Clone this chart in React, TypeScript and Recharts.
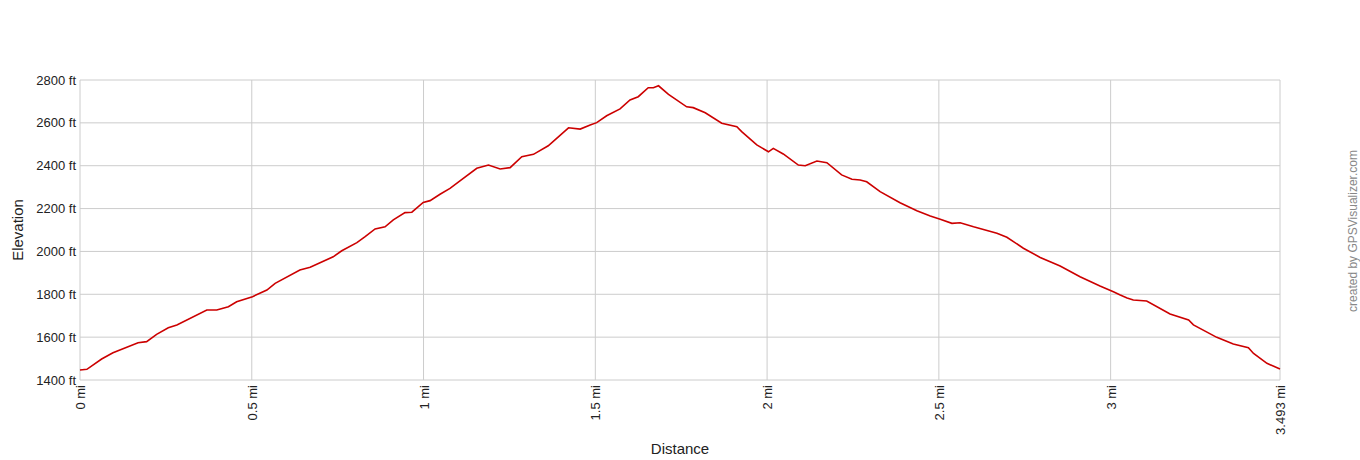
import { LineChart, Line, XAxis, YAxis, CartesianGrid, Label } from "recharts"

const distanceMi = [
  0, 0.02, 0.063, 0.096, 0.169, 0.194, 0.223, 0.257, 0.282, 0.369, 0.398, 0.432, 0.456, 0.502,
  0.544, 0.568, 0.64, 0.67, 0.737, 0.762, 0.806, 0.83, 0.859, 0.888, 0.912, 0.946, 0.966, 0.999,
  1.019, 1.048, 1.077, 1.106, 1.155, 1.189, 1.223, 1.252, 1.286, 1.32, 1.363, 1.422, 1.456, 1.485,
  1.504, 1.533, 1.572, 1.601, 1.625, 1.654, 1.669, 1.684, 1.713, 1.766, 1.785, 1.82, 1.868, 1.912,
  1.926, 1.97, 2.004, 2.018, 2.047, 2.091, 2.111, 2.145, 2.174, 2.217, 2.247, 2.271, 2.29, 2.329,
  2.387, 2.436, 2.475, 2.504, 2.538, 2.562, 2.601, 2.669, 2.698, 2.746, 2.795, 2.853, 2.911, 2.969,
  3.008, 3.028, 3.048, 3.066, 3.105, 3.173, 3.227, 3.241, 3.309, 3.357, 3.401, 3.416, 3.455, 3.493,
]

const elevationFt = [
  1447, 1450, 1498, 1527, 1574, 1579, 1613, 1644, 1657, 1727, 1727, 1742, 1765, 1789,
  1820, 1851, 1913, 1926, 1975, 2003, 2041, 2069, 2105, 2115, 2147, 2181, 2183, 2229,
  2237, 2267, 2294, 2329, 2388, 2403, 2385, 2391, 2442, 2453, 2493, 2577, 2571, 2590,
  2601, 2633, 2665, 2707, 2722, 2764, 2764, 2773, 2733, 2675, 2671, 2647, 2598, 2582,
  2559, 2497, 2465, 2481, 2455, 2403, 2400, 2422, 2414, 2357, 2337, 2333, 2325, 2279,
  2227, 2190, 2165, 2150, 2131, 2134, 2115, 2085, 2066, 2015, 1972, 1932, 1882, 1839,
  1812, 1797, 1783, 1773, 1769, 1708, 1680, 1657, 1599, 1568, 1551, 1524, 1478, 1451,
]

const xTicks = [0, 0.5, 1, 1.5, 2, 2.5, 3, 3.493]
const yTicks = [1400, 1600, 1800, 2000, 2200, 2400, 2600, 2800]

const data = distanceMi.map((d, i) => ({ dist: d, ele: elevationFt[i] }))

const FONT = "'Liberation Sans', Arial, sans-serif"

const DistTick = ({ x, y, payload }: any) => (
  <g transform={`translate(${x},${y})`}>
    <text transform="rotate(-90)" x={-5} y={5} textAnchor="end" fontSize={13} fill="#222" fontFamily={FONT}>
      {`${payload.value} mi`}
    </text>
  </g>
)

export default function App() {
  return (
    <div style={{ position: "absolute", left: 0, top: 0, width: 1360, height: 460, background: "#fff", fontFamily: FONT }}>
      <LineChart width={1360} height={460} data={data} margin={{ top: 80, right: 80, bottom: 0, left: 0 }}>
        <CartesianGrid stroke="#cccccc" strokeWidth={1} />
        <XAxis
          dataKey="dist"
          type="number"
          domain={[0, 3.493]}
          ticks={xTicks}
          height={80}
          axisLine={false}
          tickLine={false}
          tickSize={0}
          tickMargin={0}
          tick={<DistTick />}
          interval={0}
        >
          <Label
            content={({ viewBox }: any) => (
              <text x={viewBox.x + viewBox.width / 2} y={viewBox.y + 74} textAnchor="middle" fontSize={15} fill="#222" fontFamily={FONT}>
                Distance
              </text>
            )}
          />
        </XAxis>
        <YAxis
          type="number"
          domain={[1400, 2800]}
          ticks={yTicks}
          width={80}
          axisLine={false}
          tickLine={false}
          tickSize={0}
          tickMargin={4}
          interval={0}
          tickFormatter={(v: number) => `${v} ft`}
          tick={{ fontSize: 13, fill: "#222", fontFamily: FONT }}
        >
          <Label
            content={({ viewBox }: any) => (
              <text
                transform={`translate(${viewBox.x + 23},${viewBox.y + viewBox.height / 2}) rotate(-90)`}
                textAnchor="middle"
                fontSize={15}
                fill="#222"
                fontFamily={FONT}
              >
                Elevation
              </text>
            )}
          />
        </YAxis>
        <Line
          type="linear"
          dataKey="ele"
          stroke="#cc0000"
          strokeWidth={1.6}
          dot={false}
          activeDot={false}
          isAnimationActive={false}
        />
      </LineChart>
      <div
        style={{
          position: "absolute",
          left: 1353,
          top: 231,
          transform: "translate(-50%, -50%) rotate(-90deg)",
          fontSize: 12,
          color: "#888",
          whiteSpace: "nowrap",
          lineHeight: "12px",
        }}
      >
        created by GPSVisualizer.com
      </div>
    </div>
  )
}
